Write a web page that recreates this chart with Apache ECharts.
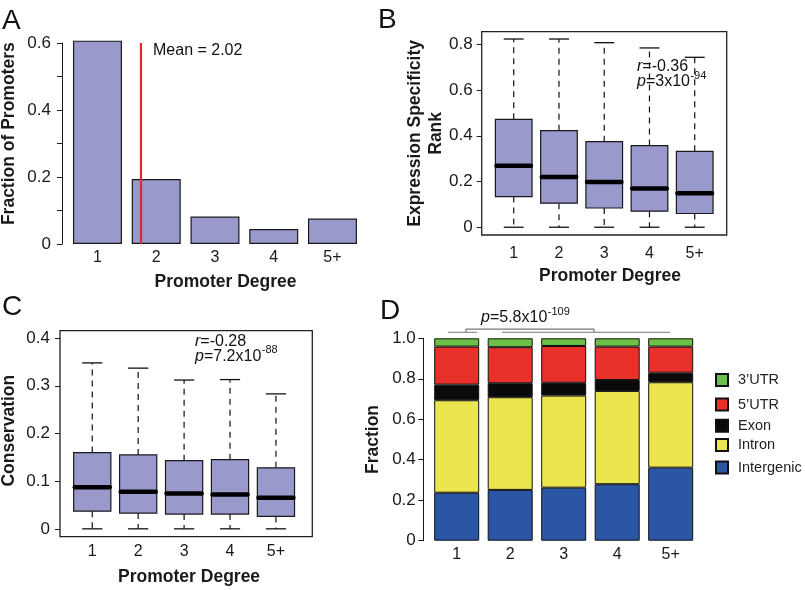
<!DOCTYPE html>
<html><head><meta charset="utf-8">
<script src="https://cdn.jsdelivr.net/npm/echarts@6/dist/echarts.min.js"></script>
<style>html,body{margin:0;padding:0;background:#fff}#c{width:805px;height:590px}</style>
</head><body><div id="c"></div>
<script>
// ---------- data ----------
const degrees = ['1', '2', '3', '4', '5+'];
// Panel A: fraction of promoters by degree
const fractionPromoters = [0.607, 0.194, 0.082, 0.045, 0.076];
const meanLineX = 0.74;          // red line position (category-index units)
const meanLineTop = 0.6;
// Panel B: expression specificity rank (box stats)
const specLow  = [0, 0, 0, 0, 0];
const specQ1   = [0.134, 0.105, 0.084, 0.070, 0.060];
const specMed  = [0.269, 0.220, 0.198, 0.169, 0.149];
const specQ3   = [0.472, 0.422, 0.374, 0.357, 0.332];
const specHigh = [0.823, 0.823, 0.807, 0.784, 0.743];
const specTicks = [0, 0.2, 0.4, 0.6, 0.8];
// Panel C: conservation (box stats)
const consLow  = [0, 0, 0, 0, 0];
const consQ1   = [0.037, 0.033, 0.031, 0.031, 0.026];
const consMed  = [0.087, 0.078, 0.074, 0.072, 0.065];
const consQ3   = [0.160, 0.155, 0.143, 0.145, 0.128];
const consHigh = [0.348, 0.337, 0.312, 0.313, 0.283];
const consTicks = [0, 0.1, 0.2, 0.3, 0.4];
// Panel D: genomic location fractions (stacked)
const intergenic = [0.237, 0.251, 0.262, 0.279, 0.361];
const intron     = [0.457, 0.458, 0.455, 0.461, 0.422];
const exon       = [0.077, 0.069, 0.063, 0.054, 0.047];
const utr5       = [0.188, 0.178, 0.182, 0.165, 0.129];
const utr3       = [0.041, 0.044, 0.038, 0.041, 0.041];
// bracket over panel D (category-index units, fraction units)
const bracketPts = [[-0.163, 1.03], [0.379, 1.03], '-',
                    [0.174, 1.03], [0.174, 1.045], [2.566, 1.045], [2.566, 1.03], '-',
                    [0.847, 1.03], [3.987, 1.03]];

// ---------- styling ----------
const F = "'Liberation Sans', Arial, Helvetica, sans-serif";
const INK = '#1a1a1a';
const BOX = '#9999cc';
const fmt1 = v => (Math.abs(v) < 1e-9 ? '0' : v.toFixed(1));

function boxRender(params, api) {
  const x = api.value(0);
  const pLo = api.coord([x, api.value(1)]);
  const pQ1 = api.coord([x, api.value(2)]);
  const pMed = api.coord([x, api.value(3)]);
  const pQ3 = api.coord([x, api.value(4)]);
  const pHi = api.coord([x, api.value(5)]);
  const band = api.size([1, 0])[0];
  const cx = pMed[0];
  const bw = band * 0.81, cw = band * 0.44, mw = bw - 2.2;
  const dash = { stroke: '#111', lineWidth: 1.2, lineDash: [6, 5], fill: null };
  const solid = { stroke: '#111', lineWidth: 1.3, fill: null };
  return {
    type: 'group',
    children: [
      { type: 'line', shape: { x1: cx, y1: pQ3[1], x2: cx, y2: pHi[1] }, style: dash },
      { type: 'line', shape: { x1: cx, y1: pQ1[1], x2: cx, y2: pLo[1] }, style: dash },
      { type: 'line', shape: { x1: cx - cw / 2, y1: pHi[1], x2: cx + cw / 2, y2: pHi[1] }, style: solid },
      { type: 'line', shape: { x1: cx - cw / 2, y1: pLo[1], x2: cx + cw / 2, y2: pLo[1] }, style: solid },
      { type: 'rect', shape: { x: cx - bw / 2, y: pQ3[1], width: bw, height: pQ1[1] - pQ3[1] },
        style: { fill: BOX, stroke: INK, lineWidth: 1.2 } },
      { type: 'line', shape: { x1: cx - mw / 2, y1: pMed[1], x2: cx + mw / 2, y2: pMed[1] },
        style: { stroke: '#000', lineWidth: 4.5, lineCap: 'round', fill: null } }
    ]
  };
}

const axisLabelBase = { color: INK, fontFamily: F };
const nameStyle = (extra) => Object.assign({ color: INK, fontFamily: F, fontWeight: 'bold', fontSize: 17.5 }, extra || {});

const gridBase = { outerBoundsMode: 'none', containLabel: false };
const grids = [
  Object.assign({ left: 68.1, top: 43, width: 293.75, height: 201 }, gridBase),      // 0 A
  Object.assign({ left: 491.1, top: 31.7, width: 226.25, height: 203.3 }, gridBase), // 1 B data
  Object.assign({ left: 69.3, top: 330.7, width: 229.6, height: 206 }, gridBase),    // 2 C data
  Object.assign({ left: 429.95, top: 338.3, width: 267.5, height: 202.4 }, gridBase),// 3 D
  Object.assign({ left: 481.7, top: 31.7, width: 245, height: 203.3, show: true, borderColor: '#222', borderWidth: 1.3, backgroundColor: 'transparent' }, gridBase), // 4 B frame
  Object.assign({ left: 60, top: 330.7, width: 252.3, height: 206, show: true, borderColor: '#222', borderWidth: 1.3, backgroundColor: 'transparent' }, gridBase)     // 5 C frame
];

const catX = (gi, margin, name, gap, pad) => ({
  gridIndex: gi, type: 'category', data: degrees,
  axisLine: { show: false, onZero: false }, axisTick: { show: false }, splitLine: { show: false },
  axisLabel: Object.assign({ margin: margin, fontSize: 16 }, axisLabelBase),
  name: name || '', nameLocation: 'middle', nameGap: gap || 30, nameMoveOverlap: false,
  nameTextStyle: nameStyle({ padding: [0, 0, 0, pad || 0] })
});
const hiddenVal = (gi, min, max) => ({ gridIndex: gi, type: 'value', show: false, min: min, max: max,
  axisLine: { onZero: false }, splitLine: { show: false } });

const xAxes = [
  catX(0, 6, 'Promoter Degree', 29, 21),     // 0
  hiddenVal(0, -0.5, 4.5),                   // 1
  catX(1, 11, 'Promoter Degree', 31.7, 11.6),// 2
  catX(2, 6.5, 'Promoter Degree', 31.3, 10), // 3
  catX(3, 5.5),                              // 4
  hiddenVal(3, -0.5, 4.5),                   // 5
  hiddenVal(4, 0, 1),                        // 6
  hiddenVal(5, 0, 1)                         // 7
];

const yAxes = [
  { gridIndex: 0, type: 'value', min: 0, max: 0.6, interval: 0.1, offset: 6.1,
    axisLine: { show: true, onZero: false, lineStyle: { color: INK, width: 1 } },
    axisTick: { show: true, length: 5, lineStyle: { color: INK } },
    splitLine: { show: false },
    axisLabel: Object.assign({ margin: 11, fontSize: 17,
      formatter: v => (Math.round(v * 10) % 2 === 0 ? fmt1(v) : '') }, axisLabelBase),
    name: 'Fraction of Promoters', nameLocation: 'middle', nameGap: 43.5, nameMoveOverlap: false,
    nameTextStyle: nameStyle({ padding: [0, 0, 0, 19.6] }) },
  { gridIndex: 1, type: 'value', min: -0.034, max: 0.855, offset: 9.4,
    axisLine: { show: false, onZero: false },
    axisTick: { show: true, length: 5, customValues: specTicks, lineStyle: { color: INK } },
    splitLine: { show: false },
    axisLabel: Object.assign({ margin: 9, fontSize: 17, customValues: specTicks, formatter: fmt1 }, axisLabelBase),
    name: 'Expression Specificity\nRank', nameLocation: 'middle', nameGap: 35, nameMoveOverlap: false,
    nameTextStyle: nameStyle({ lineHeight: 21 }) },
  { gridIndex: 2, type: 'value', min: -0.0165, max: 0.4155, offset: 9.3,
    axisLine: { show: false, onZero: false },
    axisTick: { show: true, length: 5, customValues: consTicks, lineStyle: { color: INK } },
    splitLine: { show: false },
    axisLabel: Object.assign({ margin: 10, fontSize: 17, customValues: consTicks, formatter: fmt1 }, axisLabelBase),
    name: 'Conservation', nameLocation: 'middle', nameGap: 41.5, nameMoveOverlap: false,
    nameTextStyle: nameStyle({ padding: [0, 0, 0, 6] }) },
  { gridIndex: 3, type: 'value', min: 0, max: 1, interval: 0.2, offset: 6.65,
    axisLine: { show: true, onZero: false, lineStyle: { color: INK, width: 1 } },
    axisTick: { show: true, length: 5, lineStyle: { color: INK } },
    splitLine: { show: false },
    axisLabel: Object.assign({ margin: 7.5, fontSize: 17, formatter: fmt1 }, axisLabelBase),
    name: 'Fraction', nameLocation: 'middle', nameGap: 40.8, nameMoveOverlap: false,
    nameTextStyle: nameStyle() },
  hiddenVal(4, 0, 1),
  hiddenVal(5, 0, 1)
];

const boxData = (lo, q1, md, q3, hi) => degrees.map((d, i) => [i, lo[i], q1[i], md[i], q3[i], hi[i]]);

const stackDefs = [
  { name: 'Intergenic', data: intergenic, color: '#2a56a5' },
  { name: 'Intron', data: intron, color: '#ebe64e' },
  { name: 'Exon', data: exon, color: '#0a0a0a' },
  { name: '5’UTR', data: utr5, color: '#e8312b' },
  { name: '3’UTR', data: utr3, color: '#6cbf47' }
];

const series = [
  { type: 'bar', name: 'Fraction of Promoters', xAxisIndex: 0, yAxisIndex: 0, data: fractionPromoters,
    barWidth: 49, clip: false, itemStyle: { color: BOX, borderColor: INK, borderWidth: 1.2 } },
  { type: 'line', name: 'Mean', xAxisIndex: 1, yAxisIndex: 0, data: [[meanLineX, 0], [meanLineX, meanLineTop]],
    symbol: 'none', clip: false, z: 5, lineStyle: { color: '#e8252b', width: 2.2 } },
  { type: 'custom', name: 'Expression Specificity Rank', xAxisIndex: 2, yAxisIndex: 1,
    renderItem: boxRender, encode: { x: 0, y: [1, 2, 3, 4, 5] },
    data: boxData(specLow, specQ1, specMed, specQ3, specHigh) },
  { type: 'custom', name: 'Conservation', xAxisIndex: 3, yAxisIndex: 2,
    renderItem: boxRender, encode: { x: 0, y: [1, 2, 3, 4, 5] },
    data: boxData(consLow, consQ1, consMed, consQ3, consHigh) }
].concat(stackDefs.map(s => ({
  type: 'bar', name: s.name, stack: 'loc', xAxisIndex: 4, yAxisIndex: 3, data: s.data, barWidth: 45,
  itemStyle: { color: s.color, borderColor: '#111', borderWidth: 1 }
}))).concat([
  { type: 'line', name: 'bracket', xAxisIndex: 5, yAxisIndex: 3, data: bracketPts, symbol: 'none',
    clip: false, connectNulls: false, lineStyle: { color: '#777', width: 1.2 } }
]);

const legendNames = ['3’UTR', '5’UTR', 'Exon', 'Intron', 'Intergenic'];
const legendCenters = [380.5, 405, 426.3, 445.5, 468];
const legends = legendNames.map((n, i) => ({
  data: [n], left: 715, top: legendCenters[i] - 8, orient: 'vertical', icon: 'rect',
  itemWidth: 12, itemHeight: 12, padding: 0, selectedMode: false,
  textStyle: { fontSize: 14.5, color: '#222', fontFamily: F, padding: [0, 0, 0, 5] }
}));

// ---------- annotation text (with superscripts placed after measuring) ----------
const mctx = document.createElement('canvas').getContext('2d');
function tw(font, s) { mctx.font = font; return mctx.measureText(s).width; }
const FONT_I = `italic 16px ${F}`, FONT_N = `16px ${F}`, FONT_S = `11px ${F}`;
const rich = { i: { fontStyle: 'italic', fontSize: 16, fontFamily: F, fill: '#111' } };
function statLine(x, yc, italicChar, rest, sup) {
  const out = [{ type: 'text', x: x, y: yc, silent: true,
    style: { text: `{i|${italicChar}}${rest}`, rich: rich, fontSize: 16, fontFamily: F, fill: '#111', verticalAlign: 'middle' } }];
  if (sup) {
    const w = tw(FONT_I, italicChar) + tw(FONT_N, rest);
    out.push({ type: 'text', x: x + w + 0.5, y: yc - 6.5, silent: true,
      style: { text: sup, font: FONT_S, fill: '#111', verticalAlign: 'middle' } });
  }
  return out;
}
const txt = (x, y, text, font) => ({
  type: 'text', x: x, y: y, silent: true,
  style: { text: text, font: font, fill: '#111', verticalAlign: 'middle', align: 'left' }
});

const graphics = [
  txt(2, 21, 'A', `28px ${F}`),
  txt(378, 20, 'B', `28px ${F}`),
  txt(2, 307, 'C', `28px ${F}`),
  txt(380, 311, 'D', `28px ${F}`),
  txt(153, 51, 'Mean = 2.02', `16px ${F}`)
].concat(
  statLine(637, 67, 'r', '=-0.36'),
  statLine(637, 82, 'p', '=3x10', '-94'),
  statLine(195, 342, 'r', '=-0.28'),
  statLine(195, 356.5, 'p', '=7.2x10', '-88'),
  statLine(481, 318, 'p', '=5.8x10', '-109')
);

const chart = echarts.init(document.getElementById('c'), null, { renderer: 'canvas' });
chart.setOption({
  animation: false,
  backgroundColor: '#fff',
  textStyle: { fontFamily: F },
  grid: grids,
  xAxis: xAxes,
  yAxis: yAxes,
  legend: legends,
  series: series,
  graphic: graphics
});
</script>
</body></html>
